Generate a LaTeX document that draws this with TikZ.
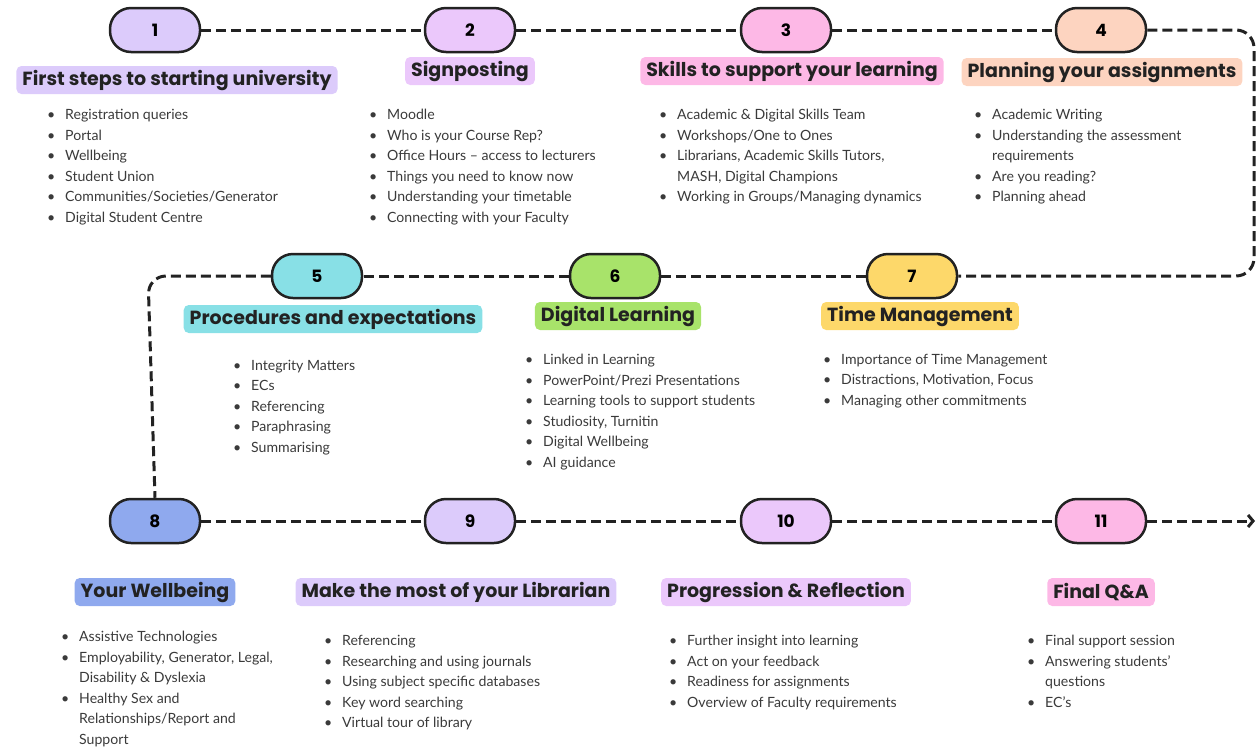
\documentclass[tikz,border=0pt]{standalone}
\usepackage{fontspec}
\setmainfont{Lato}
\newfontfamily\headfont{Poppins}
\usepackage{xcolor}
\usetikzlibrary{arrows.meta,positioning}

\definecolor{lav}{HTML}{DCCBFB}
\definecolor{mauve}{HTML}{EBC8FB}
\definecolor{pinky}{HTML}{FDB8E6}
\definecolor{peach}{HTML}{FDD4C0}
\definecolor{cyanish}{HTML}{88E0E6}
\definecolor{greeny}{HTML}{A8E36A}
\definecolor{yellowish}{HTML}{FDD86A}
\definecolor{bluish}{HTML}{8FA9EE}
\definecolor{txt}{HTML}{3A3A3A}
\definecolor{ink}{HTML}{222222}

\newcommand{\itm}[1]{\makebox[18pt][l]{\textbullet}#1}
\newcommand{\cnt}[1]{\hspace*{18pt}#1}

\begin{document}
\begin{tikzpicture}[
		x=1pt, y=-1pt,
		pill/.style={draw=ink, line width=2.5pt, rounded corners=21pt, minimum width=90pt, minimum height=44pt, inner sep=0pt, font=\headfont\bfseries\fontsize{17}{17}\selectfont},
		title/.style={rounded corners=5pt, inner xsep=6pt, inner ysep=0pt, minimum height=28pt, font=\headfont\bfseries\fontsize{19}{19}\selectfont, text=ink},
		lst/.style={anchor=north west, align=left, inner sep=0pt, text=txt, font=\fontsize{14.1}{20.5}\selectfont},
		dashline/.style={draw=ink, line width=3pt, dash pattern=on 10pt off 5pt},
		]
		\useasboundingbox (0,0) rectangle (1257,748);
		
		% The steps
		\node[pill, fill=lav] (p1) at (155,30) {1};
		\node[pill, fill=mauve] (p2) at (470,30) {2};
		\node[pill, fill=pinky] (p3) at (786,30) {3};
		\node[pill, fill=peach] (p4) at (1101,30) {4};
		\node[pill, fill=cyanish] (p5) at (317,276) {5};
		\node[pill, fill=greeny] (p6) at (615,276) {6};
		\node[pill, fill=yellowish] (p7) at (912,276) {7};
		\node[pill, fill=bluish] (p8) at (155,521) {8};
		\node[pill, fill=lav] (p9) at (470,521) {9};
		\node[pill, fill=mauve] (p10) at (786,521) {10};
		\node[pill, fill=pinky] (p11) at (1101,521) {11};
		
		% The titles
		\node[title, fill=lav] (t1) at (177,80) {First steps to starting university};
		\node[title, fill=mauve] (t2) at (470,71) {Signposting};
		\node[title, fill=pinky] (t3) at (792,71) {Skills to support your learning};
		\node[title, fill=peach] (t4) at (1102,72) {Planning your assignments};
		\node[title, fill=cyanish] (t5) at (333,319) {Procedures and expectations};
		\node[title, fill=greeny] (t6) at (618,316) {Digital Learning};
		\node[title, fill=yellowish] (t7) at (920,316) {Time Management};
		\node[title, fill=bluish] (t8) at (155,592) {Your Wellbeing};
		\node[title, fill=lav] (t9) at (456,592) {Make the most of your Librarian};
		\node[title, fill=mauve] (t10) at (786,592) {Progression \& Reflection};
		\node[title, fill=pinky] (t11) at (1101,592) {Final Q\&A};
		
		% The lists
		\node[lst] (l1) at (47,109) {\itm{Registration queries}\\ \itm{Portal}\\ \itm{Wellbeing}\\ \itm{Student Union}\\ \itm{Communities/Societies/Generator}\\ \itm{Digital Student Centre}};
		\node[lst] (l2) at (369,109) {\itm{Moodle}\\ \itm{Who is your Course Rep?}\\ \itm{Office Hours – access to lecturers}\\ \itm{Things you need to know now}\\ \itm{Understanding your timetable}\\ \itm{Connecting with your Faculty}};
		\node[lst] (l3) at (659,109) {\itm{Academic \& Digital Skills Team}\\ \itm{Workshops/One to Ones}\\ \itm{Librarians, Academic Skills Tutors,}\\ \cnt{MASH, Digital Champions}\\ \itm{Working in Groups/Managing dynamics}};
		\node[lst] (l4) at (974,109) {\itm{Academic Writing}\\ \itm{Understanding the assessment}\\ \cnt{requirements}\\ \itm{Are you reading?}\\ \itm{Planning ahead}};
		\node[lst] (l5) at (233,360) {\itm{Integrity Matters}\\ \itm{ECs}\\ \itm{Referencing}\\ \itm{Paraphrasing}\\ \itm{Summarising}};
		\node[lst] (l6) at (525,354) {\itm{Linked in Learning}\\ \itm{PowerPoint/Prezi Presentations}\\ \itm{Learning tools to support students}\\ \itm{Studiosity, Turnitin}\\ \itm{Digital Wellbeing}\\ \itm{AI guidance}};
		\node[lst] (l7) at (823,354) {\itm{Importance of Time Management}\\ \itm{Distractions, Motivation, Focus}\\ \itm{Managing other commitments}};
		\node[lst] (l8) at (61,631) {\itm{Assistive Technologies}\\ \itm{Employability, Generator, Legal,}\\ \cnt{Disability \& Dyslexia}\\ \itm{Healthy Sex and}\\ \cnt{Relationships/Report and}\\ \cnt{Support}};
		\node[lst] (l9) at (324,635) {\itm{Referencing}\\ \itm{Researching and using journals}\\ \itm{Using subject specific databases}\\ \itm{Key word searching}\\ \itm{Virtual tour of library}};
		\node[lst] (l10) at (669,635) {\itm{Further insight into learning}\\ \itm{Act on your feedback}\\ \itm{Readiness for assignments}\\ \itm{Overview of Faculty requirements}};
		\node[lst] (l11) at (1027,635) {\itm{Final support session}\\ \itm{Answering students’}\\ \cnt{questions}\\ \itm{EC’s}};
		
		% The dashed route
		\draw[dashline] (p1) -- (p2);
		\draw[dashline] (p2) -- (p3);
		\draw[dashline] (p3) -- (p4);
		\draw[dashline, rounded corners=18pt] (p4.east) -- (1254,30) -- (1254,276) -- (p7.east);
		\draw[dashline] (p7) -- (p6);
		\draw[dashline] (p6) -- (p5);
		\draw[dashline, rounded corners=18pt] (p5.west) -- (148,276) -- (p8.north);
		\draw[dashline] (p8) -- (p9);
		\draw[dashline] (p9) -- (p10);
		\draw[dashline] (p10) -- (p11);
		\coordinate (end) at (1255,521);
		\draw[dashline, -{Straight Barb[length=5pt,width=12pt]}] (p11) -- (end);
	\end{tikzpicture}
\end{document}
